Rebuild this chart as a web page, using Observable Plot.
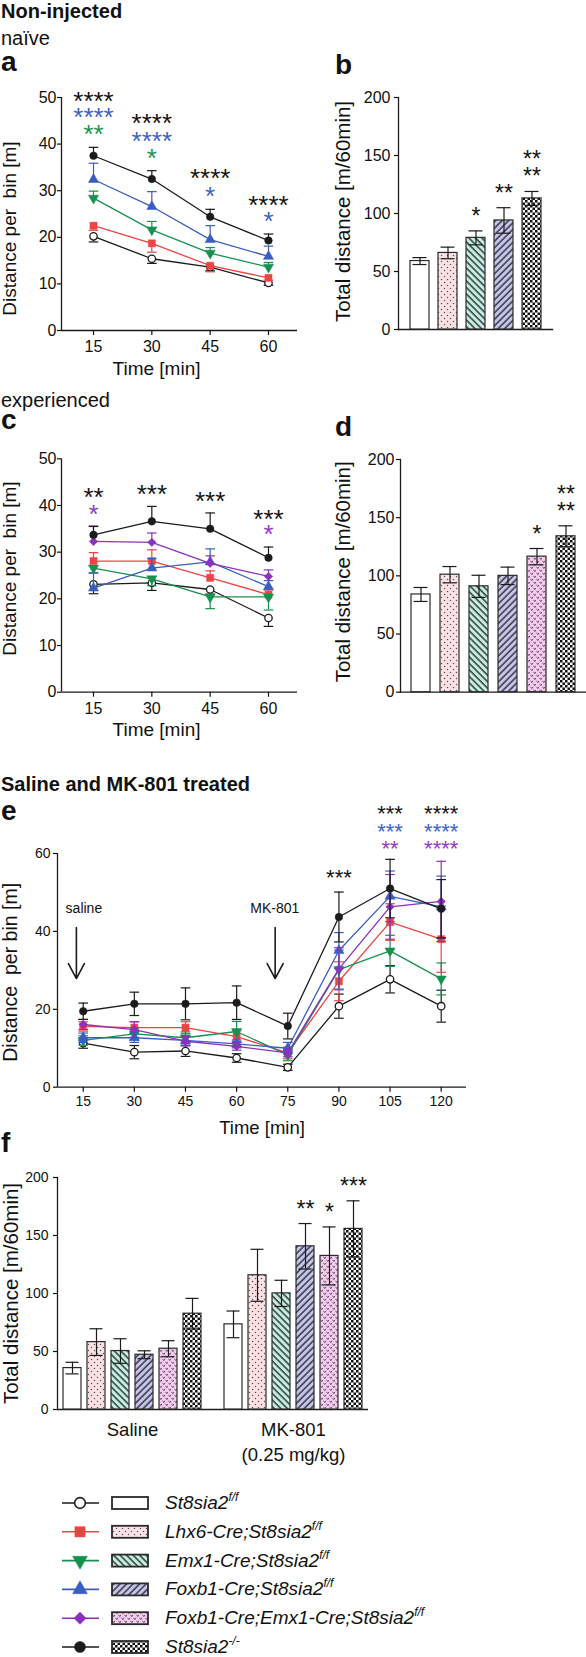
<!DOCTYPE html>
<html><head><meta charset="utf-8">
<script src="https://cdn.jsdelivr.net/npm/d3@7"></script>
<script src="https://cdn.jsdelivr.net/npm/@observablehq/plot@0.6"></script>
<style>
body{margin:0;background:#fff;}
#fig{position:relative;width:586px;height:1657px;overflow:hidden;background:#fff;font-family:'Liberation Sans',Arial,Helvetica,sans-serif;color:#111;}
.h{position:absolute;line-height:1;white-space:nowrap;}
.leg{position:absolute;font-style:italic;font-size:19px;line-height:1;white-space:nowrap;}
.leg sup{font-size:12px;vertical-align:0;position:relative;top:-8px;}
</style></head><body>
<svg width="0" height="0" style="position:absolute;left:0;top:0">
<defs>
<pattern id="p-white" width="4" height="4" patternUnits="userSpaceOnUse"><rect width="4" height="4" fill="#ffffff"/></pattern>
<pattern id="p-dots" width="6" height="6" patternUnits="userSpaceOnUse"><rect width="6" height="6" fill="#fde1e6"/><circle cx="1.5" cy="1.5" r="0.75" fill="#555"/><circle cx="4.5" cy="4.5" r="0.75" fill="#555"/></pattern>
<pattern id="p-bs" width="4.6" height="4.6" patternUnits="userSpaceOnUse" patternTransform="rotate(-45)"><rect width="4.6" height="4.6" fill="#c4f0e3"/><line x1="1" y1="0" x2="1" y2="4.6" stroke="#2a2a2a" stroke-width="1.4"/></pattern>
<pattern id="p-fs" width="4.6" height="4.6" patternUnits="userSpaceOnUse" patternTransform="rotate(45)"><rect width="4.6" height="4.6" fill="#c6c5ef"/><line x1="1" y1="0" x2="1" y2="4.6" stroke="#2a2a2a" stroke-width="1.4"/></pattern>
<pattern id="p-v" width="6" height="6" patternUnits="userSpaceOnUse"><rect width="6" height="6" fill="#f5ccef"/><path d="M0.6,0.8 L1.8,2.6 L3,0.8" fill="none" stroke="#554455" stroke-width="0.9"/><path d="M3.6,3.8 L4.8,5.6 L6,3.8" fill="none" stroke="#554455" stroke-width="0.9"/></pattern>
<pattern id="p-check" width="5" height="5" patternUnits="userSpaceOnUse"><rect width="5" height="5" fill="#ffffff"/><rect width="2.5" height="2.5" fill="#111"/><rect x="2.5" y="2.5" width="2.5" height="2.5" fill="#111"/></pattern>
</defs>
</svg>
<div id="fig">
  <div class="h" style="left:1px;top:1px;font-size:20px;font-weight:bold">Non-injected</div>
  <div class="h" style="left:1px;top:28px;font-size:20px">naïve</div>
  <div class="h" style="left:1px;top:48px;font-size:28px;font-weight:bold">a</div>
  <div class="h" style="left:335px;top:51px;font-size:28px;font-weight:bold">b</div>
  <div class="h" style="left:1px;top:390px;font-size:20px">experienced</div>
  <div class="h" style="left:1px;top:406px;font-size:28px;font-weight:bold">c</div>
  <div class="h" style="left:335px;top:413px;font-size:28px;font-weight:bold">d</div>
  <div class="h" style="left:1px;top:774px;font-size:20px;font-weight:bold">Saline and MK-801 treated</div>
  <div class="h" style="left:1px;top:797px;font-size:28px;font-weight:bold">e</div>
  <div class="h" style="left:1px;top:1129px;font-size:28px;font-weight:bold">f</div>
</div>
<script>
const INK = "#1b1b1b";
const FONT = "'Liberation Sans', Arial, Helvetica, sans-serif";

// ---------- genotypes ----------
const genotypeKeys = ["ff", "lhx6", "emx1", "foxb1", "fe", "ko"];
const genotypeNames = ["St8sia2", "Lhx6-Cre;St8sia2", "Emx1-Cre;St8sia2", "Foxb1-Cre;St8sia2", "Foxb1-Cre;Emx1-Cre;St8sia2", "St8sia2"];
const genotypeSups = ["f/f", "f/f", "f/f", "f/f", "f/f", "-/-"];
const lineColors = [INK, "#ee4444", "#17914f", "#3a5ebf", "#8c31bd", INK];
const markerFills = ["#ffffff", "#ee4444", "#17914f", "#3a5ebf", "#8c31bd", INK];
const markerSymbols = ["circle", "square", "triangleDown", "triangle", "diamond2", "circle"];
const markerRadii = [3.7, 4, 3.8, 3.8, 3.8, 3.8];
const barPatterns = ["p-white", "p-dots", "p-bs", "p-fs", "p-v", "p-check"];
const starColors = {ko: "#141414", foxb1: "#3b63c8", emx1: "#1a9150", fe: "#9339c9"};

// ---------- panel a (naive, per bin) ----------
const aTimes = [15, 30, 45, 60];
const aFF = [20.2, 15.4, 13.6, 10.2], aFFErr = [1.2, 1.0, 0.8, 0.5];
const aLhx6 = [22.5, 18.7, 13.9, 11.3], aLhx6Err = [1.0, 1.9, 1.3, 0.5];
const aEmx1 = [28.4, 21.6, 16.6, 13.6], aEmx1Err = [1.5, 1.8, 1.2, 1.0];
const aFoxb1 = [32.4, 26.6, 19.5, 15.9], aFoxb1Err = [3.5, 3.2, 3.0, 2.2];
const aKO = [37.5, 32.5, 24.4, 19.3], aKOErr = [1.8, 1.8, 1.6, 1.4];
const aStarTime = [15, 15, 15, 30, 30, 30, 45, 45, 60, 60];
const aStarLevel = [50.4, 47.0, 43.3, 45.7, 41.8, 38.2, 33.9, 30.0, 28.1, 24.7];
const aStarGroup = ["ko", "foxb1", "emx1", "ko", "foxb1", "emx1", "ko", "foxb1", "ko", "foxb1"];
const aStarText = ["****", "****", "**", "****", "****", "*", "****", "*", "****", "*"];

// ---------- panel b (naive, total) ----------
const bGenotypes = ["ff", "lhx6", "emx1", "foxb1", "ko"];
const bMean = [59, 66, 79, 94, 113];
const bErr = [3, 5, 6, 11, 6];
const bStars = ["", "", "*", "**", "**\n**"];

// ---------- panel c (experienced, per bin) ----------
const cTimes = [15, 30, 45, 60];
const cFF = [23.1, 23.4, 22.0, 15.9], cFFErr = [2.0, 1.6, 1.0, 1.8];
const cLhx6 = [28.1, 28.1, 24.5, 20.9], cLhx6Err = [1.8, 2.4, 1.5, 1.0];
const cEmx1 = [26.6, 24.3, 20.4, 20.4], cEmx1Err = [1.0, 1.5, 2.5, 2.8];
const cFoxb1 = [22.3, 26.6, 27.9, 22.6], cFoxb1Err = [3.2, 2.0, 2.8, 1.3];
const cFE = [32.3, 32.1, 27.6, 24.8], cFEErr = [3.3, 2.0, 1.6, 1.4];
const cKO = [33.7, 36.6, 35.0, 28.8], cKOErr = [1.8, 3.2, 3.4, 2.3];
const cStarTime = [15, 15, 30, 45, 60, 60];
const cStarLevel = [43.0, 39.4, 43.6, 42.1, 38.3, 35.1];
const cStarGroup = ["ko", "fe", "ko", "ko", "ko", "fe"];
const cStarText = ["**", "*", "***", "***", "***", "*"];

// ---------- panel d (experienced, total) ----------
const dGenotypes = ["ff", "lhx6", "emx1", "foxb1", "fe", "ko"];
const dMean = [84, 101, 91, 100, 116.5, 134];
const dErr = [6, 7, 9.5, 7.5, 7, 9];
const dStars = ["", "", "", "", "*", "**\n**"];

// ---------- panel e (saline / MK-801, per bin) ----------
const eTimes = [15, 30, 45, 60, 75, 90, 105, 120];
const eFF = [11.3, 9.0, 9.3, 7.5, 5.1, 20.8, 27.7, 20.8], eFFErr = [1.3, 1.7, 1.4, 1.1, 0.8, 3.1, 3.5, 4.1];
const eLhx6 = [15.6, 15.3, 15.3, 13.0, 8.8, 27.2, 42.4, 38.0], eLhx6Err = [1.2, 1.5, 1.5, 1.5, 1.5, 5.0, 4.7, 8.5];
const eEmx1 = [12.0, 13.7, 12.7, 14.3, 8.3, 30.2, 35.0, 27.8], eEmx1Err = [1.2, 1.5, 1.5, 2.6, 1.5, 5.0, 4.0, 4.1];
const eFoxb1 = [12.7, 12.7, 12.0, 11.1, 10.0, 35.1, 49.0, 46.3], eFoxb1Err = [1.2, 1.2, 1.2, 1.0, 1.5, 4.6, 6.5, 7.9];
const eFE = [16.1, 14.8, 11.8, 10.5, 8.8, 30.4, 46.3, 47.7], eFEErr = [1.3, 2.0, 1.2, 1.0, 1.0, 5.4, 8.3, 10.3];
const eKO = [19.5, 21.4, 21.4, 21.7, 15.7, 43.7, 51.0, 45.8], eKOErr = [2.1, 3.0, 4.1, 4.3, 3.3, 6.4, 7.5, 7.5];
const eStarTime = [90, 105, 105, 105, 120, 120, 120];
const eStarLevel = [55.1, 71.6, 66.9, 62.6, 71.6, 66.9, 62.6];
const eStarGroup = ["ko", "ko", "foxb1", "fe", "ko", "foxb1", "fe"];
const eStarText = ["***", "***", "***", "**", "****", "****", "****"];
const eInjectionLabel = ["saline", "MK-801"];
const eInjectionLabelTime = [15.2, 71.2];
const eInjectionArrowTime = [13.0, 71.3];
const eInjectionLabelLevel = 45.9;
const eInjectionArrowFrom = 41, eInjectionArrowTo = 27.9;

// ---------- panel f (saline / MK-801, total) ----------
const fGroups = ["Saline", "MK-801"];
const fGroupLabels = ["Saline", "MK-801\n(0.25 mg/kg)"];
const fSalineMean = [35.7, 58.1, 50.4, 47.2, 52.4, 82.6];
const fSalineErr = [5.0, 11.5, 10.6, 3.4, 6.9, 13.2];
const fMKMean = [73.4, 115.7, 100.1, 140.7, 132.4, 155.7];
const fMKErr = [11.5, 22.4, 11.3, 19.6, 25.0, 24.2];
const fSalineStars = ["", "", "", "", "", ""];
const fMKStars = ["", "", "", "**", "*", "***"];

// ---------- helpers ----------
const capSymbol = {draw(ctx, size) { const r = Math.sqrt(size / Math.PI); ctx.moveTo(-r, 0); ctx.lineTo(r, 0); }};
const triangleDown = {draw(ctx, size) {
  const s3 = Math.sqrt(3), y = -Math.sqrt(size / (s3 * 3));
  ctx.moveTo(0, -y * 2); ctx.lineTo(-s3 * y, y); ctx.lineTo(s3 * y, y); ctx.closePath();
}};
const symbolFor = (name) => name === "triangleDown" ? triangleDown : name;
const d3SymbolFor = (name) => ({circle: d3.symbolCircle, square: d3.symbolSquare, triangle: d3.symbolTriangle, diamond2: d3.symbolDiamond2, triangleDown})[name];
const plotStyle = (fs) => ({fontFamily: FONT, fontSize: fs + "px", background: "transparent", overflow: "visible", color: "#111"});

const fig = document.getElementById("fig");
function place(node, left, top) {
  node.style.position = "absolute"; node.style.left = left + "px"; node.style.top = top + "px";
  fig.appendChild(node);
}

function yTitle(label, o) {
  return Plot.text([label], {text: (d) => d, frameAnchor: "left", textAnchor: "middle", lineAnchor: "middle", rotate: -90, dx: o.yLabelDx, dy: o.yLabelDy, fontSize: o.yLabelFont});
}

function linePanel(o) {
  const marks = [
    Plot.ruleX([o.xDomain[0]], {y1: o.yDomain[0], y2: o.yDomain[1], stroke: INK, strokeWidth: 1.3}),
    Plot.ruleY([0], {stroke: INK, strokeWidth: 1.3}),
    Plot.axisX({ticks: o.times, tickSize: 5, tickPadding: o.xPad, fontSize: o.tickFont, strokeWidth: 1.2, tickFormat: (d) => String(d), label: null}),
    Plot.axisY({ticks: o.yTicks, tickSize: 4, tickPadding: o.yPad, fontSize: o.tickFont, strokeWidth: 1.2, tickFormat: (d) => String(d), label: null})
  ];
  for (const s of o.series) {
    const gi = genotypeKeys.indexOf(s.key);
    const col = lineColors[gi];
    const d = s.mean.map((v, i) => {
      const e = s.err[i];
      return {t: o.times[i], v, lo: s.dir === "up" ? v : v - e, hi: s.dir === "down" ? v : v + e};
    });
    marks.push(Plot.ruleX(d, {x: "t", y1: "lo", y2: "hi", stroke: col, strokeWidth: 1.2}));
    if (s.dir !== "down") marks.push(Plot.dot(d, {x: "t", y: "hi", symbol: capSymbol, r: 4.8, fill: "none", stroke: col, strokeWidth: 1.2}));
    if (s.dir !== "up") marks.push(Plot.dot(d, {x: "t", y: "lo", symbol: capSymbol, r: 4.8, fill: "none", stroke: col, strokeWidth: 1.2}));
    marks.push(Plot.line(d, {x: "t", y: "v", stroke: col, strokeWidth: 1.3}));
    marks.push(Plot.dot(d, {x: "t", y: "v", symbol: symbolFor(markerSymbols[gi]), r: markerRadii[gi], fill: markerFills[gi], stroke: col, strokeWidth: gi === 0 ? 1.3 : 0.5}));
  }
  const stars = o.starTime.map((t, i) => ({t, y: o.starLevel[i], g: o.starGroup[i], s: o.starText[i]}));
  for (const g of Object.keys(starColors)) {
    const sd = stars.filter((d) => d.g === g);
    if (sd.length) marks.push(Plot.text(sd, {x: "t", y: "y", text: "s", fill: starColors[g], fontSize: o.starFont, lineAnchor: "bottom", dy: o.starFont * 0.56}));
  }
  marks.push(yTitle(o.yLabel, o));
  marks.push(Plot.text([o.xLabel], {text: (d) => d, frameAnchor: "bottom", textAnchor: "middle", lineAnchor: "middle", dx: o.xLabelDx, dy: o.xLabelDy, fontSize: o.xLabelFont}));
  if (o.extra) marks.push(...o.extra);
  return Plot.plot({
    width: o.width, height: o.height,
    marginTop: o.margins[0], marginRight: o.margins[1], marginBottom: o.margins[2], marginLeft: o.margins[3],
    x: {domain: o.xDomain, label: null},
    y: {domain: o.yDomain, label: null},
    style: plotStyle(o.tickFont),
    marks
  });
}

function barRows(keys, mean, err, stars, group) {
  return keys.map((k, i) => ({g: group, k, v: mean[i], e: err[i], s: stars[i], pat: barPatterns[genotypeKeys.indexOf(k)]}));
}
function barMarks(rows, faceted) {
  const fx = faceted ? {fx: "g"} : {};
  const m = rows.map((r) => Plot.barY([r], {...fx, x: "k", y: "v", fill: `url(#${r.pat})`, stroke: "#2a2a2a", strokeWidth: 1.2}));
  m.push(Plot.ruleX(rows, {...fx, x: "k", y1: (d) => d.v - d.e, y2: (d) => d.v + d.e, stroke: INK, strokeWidth: 1.2}));
  m.push(Plot.tickY(rows, {...fx, x: "k", y: (d) => d.v + d.e, insetLeft: 2.5, insetRight: 2.5, stroke: INK, strokeWidth: 1.2}));
  m.push(Plot.tickY(rows, {...fx, x: "k", y: (d) => d.v - d.e, insetLeft: 2.5, insetRight: 2.5, stroke: INK, strokeWidth: 1.2}));
  m.push(Plot.text(rows.filter((d) => d.s), {...fx, x: "k", y: (d) => d.v + d.e, text: "s", fontSize: 23, lineAnchor: "bottom", lineHeight: 0.74, dy: -7, fill: "#141414"}));
  return m;
}

function barPanel(o) {
  const rows = barRows(o.keys, o.mean, o.err, o.stars, null);
  return Plot.plot({
    width: o.width, height: o.height,
    marginTop: o.margins[0], marginRight: o.margins[1], marginBottom: o.margins[2], marginLeft: o.margins[3],
    x: {domain: o.keys, paddingInner: o.pi, paddingOuter: o.po, axis: null},
    y: {domain: [0, 200], label: null},
    style: plotStyle(16),
    marks: [
      Plot.frame({anchor: "left", stroke: INK, strokeWidth: 1.3}),
      Plot.frame({anchor: "bottom", stroke: INK, strokeWidth: 1.3}),
      Plot.axisY({ticks: [0, 50, 100, 150, 200], tickSize: 4, tickPadding: o.yPad, fontSize: 16, strokeWidth: 1.2, label: null}),
      ...barMarks(rows, false),
      yTitle(o.yLabel, o)
    ]
  });
}

// ---------- a ----------
place(linePanel({
  width: 300, height: 300, margins: [17, 3, 50, 61],
  xDomain: [6.77, 67.46], yDomain: [0, 50], times: aTimes, yTicks: [0, 10, 20, 30, 40, 50],
  series: [
    {key: "ff", mean: aFF, err: aFFErr, dir: "down"},
    {key: "lhx6", mean: aLhx6, err: aLhx6Err, dir: "down"},
    {key: "emx1", mean: aEmx1, err: aEmx1Err, dir: "up"},
    {key: "foxb1", mean: aFoxb1, err: aFoxb1Err, dir: "up"},
    {key: "ko", mean: aKO, err: aKOErr, dir: "up"}
  ],
  starTime: aStarTime, starLevel: aStarLevel, starGroup: aStarGroup, starText: aStarText, starFont: 26,
  tickFont: 16, xPad: 5, yPad: 1,
  yLabel: "Distance per\u00a0 bin [m]", yLabelFont: 19, yLabelDx: -52, yLabelDy: 14.5,
  xLabel: "Time [min]", xLabelFont: 19, xLabelDx: -23, xLabelDy: 38
}), 0, 80);

// ---------- b ----------
place(barPanel({
  width: 296, height: 300, margins: [17, 34, 51, 108],
  keys: bGenotypes, mean: bMean, err: bErr, stars: bStars, pi: 0.333, po: 0.386, yPad: 4,
  yLabel: "Total distance [m/60min]", yLabelFont: 20.5, yLabelDx: -55, yLabelDy: -2
}), 290, 80);

// ---------- c ----------
place(linePanel({
  width: 300, height: 300, margins: [18.3, 3, 48.3, 61],
  xDomain: [6.77, 67.46], yDomain: [0, 50], times: cTimes, yTicks: [0, 10, 20, 30, 40, 50],
  series: [
    {key: "ff", mean: cFF, err: cFFErr, dir: "down"},
    {key: "lhx6", mean: cLhx6, err: cLhx6Err, dir: "up"},
    {key: "emx1", mean: cEmx1, err: cEmx1Err, dir: "down"},
    {key: "foxb1", mean: cFoxb1, err: cFoxb1Err, dir: "up"},
    {key: "fe", mean: cFE, err: cFEErr, dir: "up"},
    {key: "ko", mean: cKO, err: cKOErr, dir: "up"}
  ],
  starTime: cStarTime, starLevel: cStarLevel, starGroup: cStarGroup, starText: cStarText, starFont: 26,
  tickFont: 16, xPad: 5, yPad: 1,
  yLabel: "Distance per\u00a0 bin [m]", yLabelFont: 19, yLabelDx: -52, yLabelDy: -7,
  xLabel: "Time [min]", xLabelFont: 19, xLabelDx: -23, xLabelDy: 38
}), 0, 440);

// ---------- d ----------
place(barPanel({
  width: 296, height: 300, margins: [19, 0.5, 48.3, 110],
  keys: dGenotypes, mean: dMean, err: dErr, stars: dStars, pi: 0.345, po: 0.37, yPad: 2,
  yLabel: "Total distance [m/60min]", yLabelFont: 20.5, yLabelDx: -57, yLabelDy: -4
}), 290, 440);

// ---------- e ----------
const eInj = eInjectionLabel.map((label, i) => ({label, lt: eInjectionLabelTime[i], at: eInjectionArrowTime[i]}));
place(linePanel({
  width: 586, height: 350, margins: [63, 120, 53.3, 57],
  xDomain: [7.46, 127.42], yDomain: [0, 60], times: eTimes, yTicks: [0, 20, 40, 60],
  series: [
    {key: "ff", mean: eFF, err: eFFErr, dir: "both"},
    {key: "lhx6", mean: eLhx6, err: eLhx6Err, dir: "both"},
    {key: "emx1", mean: eEmx1, err: eEmx1Err, dir: "both"},
    {key: "foxb1", mean: eFoxb1, err: eFoxb1Err, dir: "both"},
    {key: "fe", mean: eFE, err: eFEErr, dir: "both"},
    {key: "ko", mean: eKO, err: eKOErr, dir: "both"}
  ],
  starTime: eStarTime, starLevel: eStarLevel, starGroup: eStarGroup, starText: eStarText, starFont: 22,
  tickFont: 14, xPad: 4, yPad: 3,
  yLabel: "Distance\u00a0 per bin [m]", yLabelFont: 19.5, yLabelDx: -46.5, yLabelDy: 2,
  xLabel: "Time [min]", xLabelFont: 18.5, xLabelDx: 0, xLabelDy: 41,
  extra: [
    Plot.text(eInj, {x: "lt", y: eInjectionLabelLevel, text: "label", fontSize: 14}),
    Plot.arrow(eInj, {x1: "at", x2: "at", y1: eInjectionArrowFrom, y2: eInjectionArrowTo, headLength: 20, headAngle: 56, stroke: INK, strokeWidth: 1.6})
  ]
}), 0, 790);

// ---------- f ----------
const fRows = [
  ...barRows(genotypeKeys, fSalineMean, fSalineErr, fSalineStars, "Saline"),
  ...barRows(genotypeKeys, fMKMean, fMKErr, fMKStars, "MK-801")
];
const fYTitle = [{g: fGroups[0], t: "Total distance [m/60min]"}];
place(Plot.plot({
  width: 586, height: 310, marginTop: 17, marginRight: 217, marginBottom: 61, marginLeft: 57,
  fx: {domain: fGroups, paddingInner: 0.0663, paddingOuter: 0, label: null},
  x: {domain: genotypeKeys, paddingInner: 0.265, paddingOuter: 0.2, axis: null},
  y: {domain: [0, 200], label: null},
  style: plotStyle(14),
  marks: [
    Plot.frame({anchor: "left", facetAnchor: "left", stroke: INK, strokeWidth: 1.3}),
    Plot.ruleY([{g: "Saline", y: 0}], {fx: "g", y: "y", insetRight: -11, stroke: INK, strokeWidth: 1.3}),
    Plot.ruleY([{g: "MK-801", y: 0}], {fx: "g", y: "y", stroke: INK, strokeWidth: 1.3}),
    Plot.axisY({ticks: [0, 50, 100, 150, 200], tickSize: 4, tickPadding: 5, fontSize: 14, strokeWidth: 1.2, label: null}),
    Plot.axisFx({anchor: "bottom", tickSize: 0, tickPadding: 9, fontSize: 18.5, lineHeight: 1.35, label: null, tickFormat: (d) => fGroupLabels[fGroups.indexOf(d)]}),
    ...barMarks(fRows, true),
    Plot.text(fYTitle, {fx: "g", text: "t", frameAnchor: "left", textAnchor: "middle", lineAnchor: "middle", rotate: -90, dx: -46, dy: 0, fontSize: 20.5})
  ]
}), 0, 1160);

// ---------- legend ----------
const legendTop = 1485;
const legendRowY = (i) => 18 + i * 28.8;
const leg = d3.create("svg").attr("width", 100).attr("height", 172).style("overflow", "visible");
genotypeKeys.forEach((k, i) => {
  const cy = legendRowY(i);
  leg.append("line").attr("x1", 7).attr("x2", 44).attr("y1", cy).attr("y2", cy).attr("stroke", lineColors[i]).attr("stroke-width", 1.6);
  const r = markerRadii[i] * 1.45;
  leg.append("path").attr("d", d3.symbol(d3SymbolFor(markerSymbols[i]), Math.PI * r * r)())
    .attr("transform", `translate(25,${cy})`).attr("fill", markerFills[i]).attr("stroke", lineColors[i]).attr("stroke-width", i === 0 ? 1.6 : 0.5);
  leg.append("rect").attr("x", 57).attr("y", cy - 6).attr("width", 36).attr("height", 12)
    .attr("fill", `url(#${barPatterns[i]})`).attr("stroke", "#2a2a2a").attr("stroke-width", 1.8);
  const t = document.createElement("div");
  t.className = "leg";
  t.innerHTML = `${genotypeNames[i]}<sup>${genotypeSups[i]}</sup>`;
  t.style.left = "165px"; t.style.top = (legendTop + cy - 10) + "px";
  fig.appendChild(t);
});
place(leg.node(), 55, legendTop);
</script>
</body></html>
